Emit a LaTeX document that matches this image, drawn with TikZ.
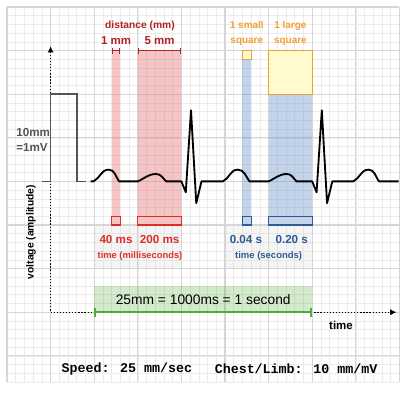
\documentclass[tikz,border=0pt]{standalone}
\usepackage{fontspec}
\setmainfont{Liberation Sans}
\newfontfamily\monofont{Liberation Mono}
\usetikzlibrary{arrows.meta}

\definecolor{distred}{RGB}{178,34,34}
\definecolor{msred}{RGB}{222,45,38}
\definecolor{bandred}{RGB}{230,110,110}
\definecolor{secblue}{RGB}{45,90,150}
\definecolor{bandblue}{RGB}{80,130,195}
\definecolor{sqorange}{RGB}{240,160,50}
\definecolor{sqyellow}{RGB}{255,251,204}
\definecolor{secgreen}{RGB}{85,170,55}
\definecolor{minorgrid}{RGB}{236,236,236}
\definecolor{majorgrid}{RGB}{214,214,214}
\definecolor{pulsegray}{RGB}{85,85,85}

\begin{document}
\begin{tikzpicture}[
    minorline/.style={minorgrid, line width=0.4pt},
    majorline/.style={majorgrid, line width=0.8pt},
    ecg/.style={black, line width=1.2pt, line join=round},
    pulse/.style={pulsegray, line width=1.1pt},
    redband/.style={fill=bandred, fill opacity=0.4},
    blueband/.style={fill=bandblue, fill opacity=0.35},
    labelbox/.style={fill=gray!40, fill opacity=0.2},
    axisline/.style={black, line width=0.7pt, dash pattern=on 0.8pt off 1.2pt},
    bigsq/.style={draw=sqorange, fill=sqyellow, line width=0.8pt},
    redsq/.style={draw=msred, fill=bandred!40, line width=0.8pt},
    bluesq/.style={draw=secblue, fill=bandblue!35, line width=0.8pt},
    bartip/.style={{Bar[width=4pt]}-{Bar[width=4pt]}}
]

    % fix the picture size
    \useasboundingbox (-0.161,0.161) rectangle (9.151,-8.945);

    % ECG paper
    \draw[minorline] (0,-8.6) grid[step=0.2] (9,0);
    \draw[majorline] (0,-8.6) grid[step=1] (9,0);

    % grey boxes behind the time labels
    \fill[labelbox] (2,-5) rectangle (4,-6);
    \fill[labelbox] (5,-5) rectangle (7,-6);

    % distance bands (red)
    \fill[redband] (2.4,-1) rectangle (2.6,-4.8);
    \fill[redband] (3,-1) rectangle (4,-4.8);
    \draw[redsq] (2.4,-4.8) rectangle (2.6,-5);
    \draw[redsq] (3,-4.8) rectangle (4,-5);
    \draw[distred, line width=1pt, bartip] (2.4,-1) -- (2.6,-1);
    \draw[distred, line width=1pt, bartip] (3,-1) -- (4,-1);

    % time bands (blue) with the squares on top
    \fill[blueband] (5.4,-1.2) rectangle (5.6,-4.8);
    \fill[blueband] (6,-2) rectangle (7,-4.8);
    \draw[bluesq] (5.4,-4.8) rectangle (5.6,-5);
    \draw[bluesq] (6,-4.8) rectangle (7,-5);
    \draw[bigsq] (5.4,-1) rectangle (5.6,-1.2);
    \draw[bigsq] (6,-1) rectangle (7,-2);

    % one second band
    \fill[secgreen, fill opacity=0.25] (2,-6.4) rectangle (7,-7);

    % axes
    \coordinate (origin) at (1,-7);
    \coordinate (vtop) at (1,-0.9);
    \coordinate (htip) at (8.93,-7);
    \draw[axisline, {Latex[length=4pt,width=4pt]}-{Latex[length=4pt,width=4pt]}] (vtop) -- (origin) -- (htip);
    \draw[secgreen, line width=1.3pt, {Bar[width=6pt]}-{Bar[width=6pt]}] (2,-7) -- (7,-7);

    % calibration pulse
    \draw[pulse] (0.8,-4) -- (1,-4) -- (1,-2) -- (1.6,-2) -- (1.6,-4) -- (1.8,-4);

    % the trace
    \draw[ecg] (1.92,-4) -- (1.98,-4)
        to[out=25,in=180] (2.33,-3.73) to[out=0,in=125] (2.57,-4)
        -- (3.0,-4) to[out=25,in=180] (3.42,-3.83) to[out=0,in=135] (3.65,-4)
        -- (4.0,-4) -- (4.1,-4.25) -- (4.22,-2.37) -- (4.34,-4.5) -- (4.46,-4)
        -- (4.95,-4) to[out=25,in=180] (5.29,-3.73) to[out=0,in=125] (5.56,-4)
        -- (6.0,-4) to[out=25,in=180] (6.42,-3.83) to[out=0,in=135] (6.64,-4)
        -- (7.0,-4) -- (7.1,-4.25) -- (7.22,-2.37) -- (7.34,-4.5) -- (7.46,-4)
        -- (7.94,-4) to[out=25,in=180] (8.29,-3.73) to[out=0,in=125] (8.53,-4)
        -- (8.98,-4);

    % labels on top
    \node[distred, font=\bfseries\fontsize{6.7}{8}\selectfont] (distance) at (3.05,-0.44) {distance (mm)};
    \node[distred, font=\bfseries\fontsize{7.5}{9}\selectfont] (onemm) at (2.5,-0.78) {1 mm};
    \node[distred, font=\bfseries\fontsize{7.5}{9}\selectfont] (fivemm) at (3.5,-0.78) {5 mm};
    \node[sqorange, align=center, font=\bfseries\fontsize{6.5}{9.8}\selectfont] (smallsq) at (5.5,-0.61) {1 small\\square};
    \node[sqorange, align=center, font=\bfseries\fontsize{6.5}{9.8}\selectfont] (largesq) at (6.5,-0.61) {1 large\\square};

    % labels below
    \node[msred, font=\bfseries\fontsize{7.6}{9}\selectfont] (fortyms) at (2.5,-5.34) {40 ms};
    \node[msred, font=\bfseries\fontsize{7.6}{9}\selectfont] (twohundredms) at (3.5,-5.34) {200 ms};
    \node[msred, font=\bfseries\fontsize{6.1}{7}\selectfont] (timems) at (3.05,-5.72) {time (milliseconds)};
    \node[secblue, font=\bfseries\fontsize{7.6}{9}\selectfont] (smallsec) at (5.48,-5.34) {0.04 s};
    \node[secblue, font=\bfseries\fontsize{7.6}{9}\selectfont] (largesec) at (6.53,-5.34) {0.20 s};
    \node[secblue, font=\bfseries\fontsize{6.2}{7}\selectfont] (timesec) at (6.0,-5.71) {time (seconds)};
    \node[font=\fontsize{9}{11}\selectfont] (onesecond) at (4.5,-6.72) {25mm = 1000ms = 1 second};

    % axis labels
    \node[font=\bfseries\fontsize{7.5}{9}\selectfont] (timeaxis) at (7.66,-7.3) {time};
    \node[rotate=90, font=\bfseries\fontsize{6.7}{8}\selectfont] (voltage) at (0.55,-5.16) {voltage (amplitude)};
    \node[anchor=west, align=left, text=pulsegray, font=\bfseries\fontsize{7.6}{10}\selectfont] (calib) at (0.09,-3.05) {10mm\\=1mV};

    % settings
    \node[font=\monofont\bfseries\fontsize{8.7}{10}\selectfont] (speed) at (2.75,-8.3) {Speed: 25 mm/sec};
    \node[font=\monofont\bfseries\fontsize{8.7}{10}\selectfont] (chest) at (6.63,-8.3) {Chest/Limb: 10 mm/mV};

\end{tikzpicture}
\end{document}
